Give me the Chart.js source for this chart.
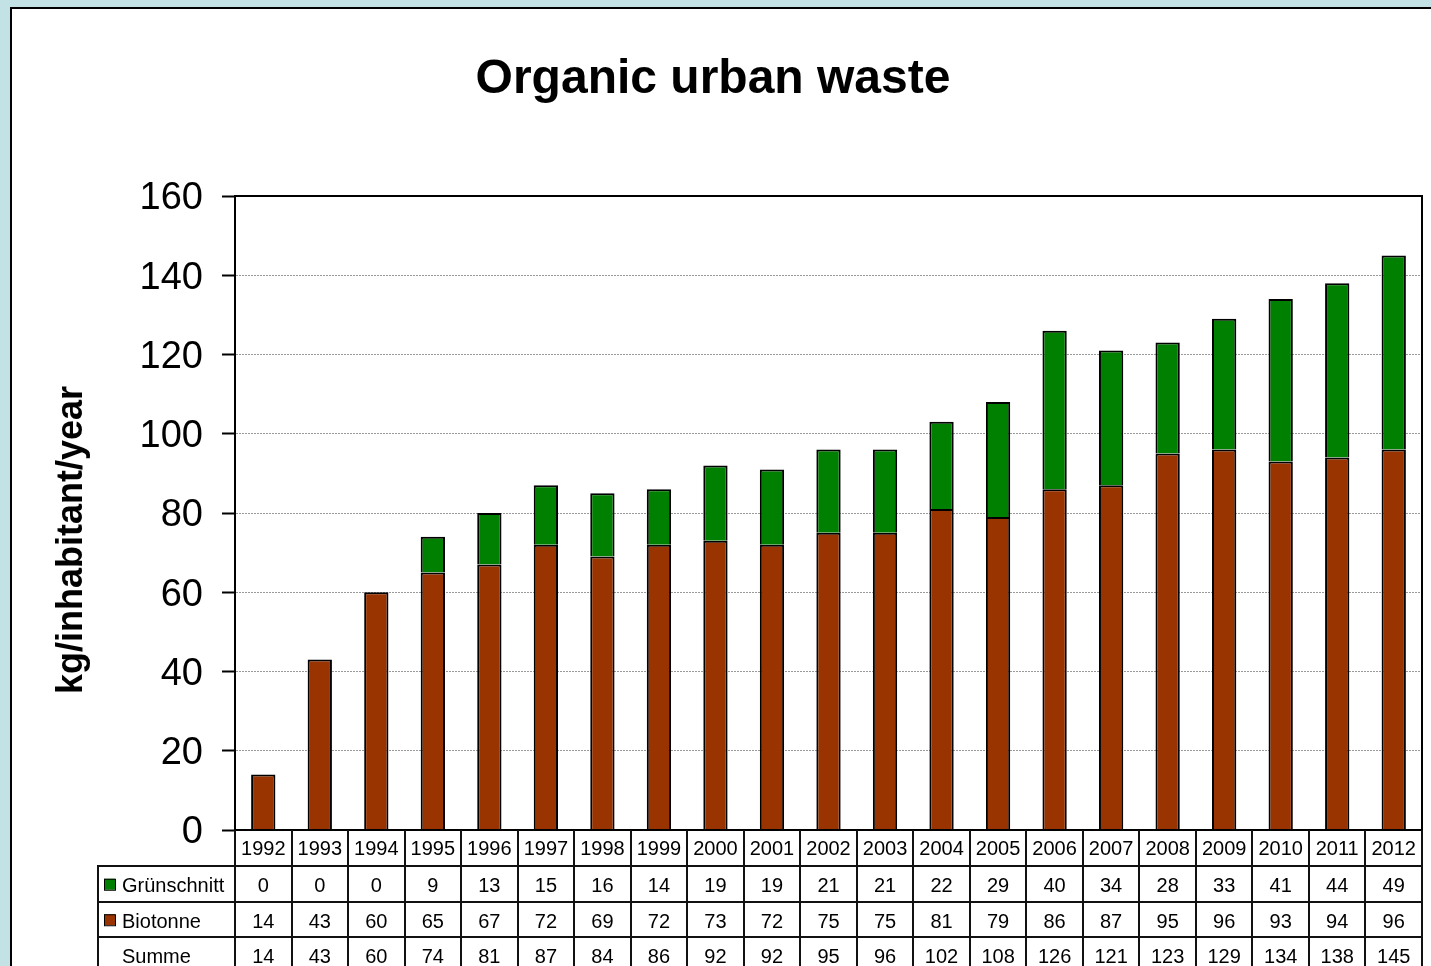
<!DOCTYPE html>
<html>
<head>
<meta charset="utf-8">
<title>Organic urban waste</title>
<script src="https://cdn.jsdelivr.net/npm/chart.js@4.4.0/dist/chart.umd.min.js"></script>
<style>
  html, body { margin: 0; padding: 0; background: #c2e2e6; }
  #wrap { position: absolute; left: 0; top: 0; width: 1431px; height: 966px; }
</style>
</head>
<body>
<div id="wrap"><canvas id="wasteChart" width="1431" height="966"></canvas></div>
<script>
// Daten (kg pro Einwohner und Jahr)
const years = ['1992', '1993', '1994', '1995', '1996', '1997', '1998', '1999', '2000', '2001', '2002',
               '2003', '2004', '2005', '2006', '2007', '2008', '2009', '2010', '2011', '2012'];
const gruenschnitt = [0, 0, 0, 9, 13, 15, 16, 14, 19, 19, 21, 21, 22, 29, 40, 34, 28, 33, 41, 44, 49];
const biotonne = [14, 43, 60, 65, 67, 72, 69, 72, 73, 72, 75, 75, 81, 79, 86, 87, 95, 96, 93, 94, 96];
const summe = [14, 43, 60, 74, 81, 87, 84, 86, 92, 92, 95, 96, 102, 108, 126, 121, 123, 129, 134, 138, 145];
const yMin = 0;
const yMax = 160;
const yStep = 20;

const FONT = "'Liberation Sans', Arial, sans-serif";
const GREEN = '#008000';
const BROWN = '#993300';

// Hintergrund + weisses Panel
const panelPlugin = {
    id: 'panel',
    beforeDraw(chart) {
        const ctx = chart.ctx;
        ctx.save();
        ctx.fillStyle = '#c2e2e6';
        ctx.fillRect(0, 0, chart.width, chart.height);
        ctx.fillStyle = '#ffffff';
        ctx.fillRect(11, 8, chart.width, chart.height);
        ctx.strokeStyle = '#000';
        ctx.lineWidth = 2;
        ctx.strokeRect(11, 8, chart.width + 20, chart.height + 20);
        ctx.restore();
    }
};

// Titel, Achsentitel, Rahmen und Datentabelle
const decorPlugin = {
    id: 'decor',
    afterDraw(chart) {
        const ctx = chart.ctx;
        const area = chart.chartArea;
        const xScale = chart.scales.x;
        ctx.save();

        // Rahmen des Plotbereichs
        ctx.strokeStyle = '#000';
        ctx.lineWidth = 2;
        ctx.strokeRect(area.left, area.top, area.right - area.left, area.bottom - area.top);

        // Titel
        ctx.fillStyle = '#000';
        ctx.textAlign = 'center';
        ctx.textBaseline = 'middle';
        ctx.font = 'bold 48px ' + FONT;
        ctx.fillText('Organic urban waste', 713, 80);

        // y-Achsentitel
        ctx.save();
        ctx.translate(72, 540);
        ctx.rotate(-Math.PI / 2);
        ctx.font = 'bold 36px ' + FONT;
        ctx.fillText('kg/inhabitant/year', 0, 0);
        ctx.restore();

        // Tabelle
        const colW = (area.right - area.left) / years.length;
        const headTop = area.bottom;
        const headBottom = headTop + 36;
        const rowH = 35.5;
        const tableLeft = 98;
        const rows = [
            { label: 'Grünschnitt', color: GREEN, values: gruenschnitt },
            { label: 'Biotonne', color: BROWN, values: biotonne },
            { label: 'Summe', color: null, values: summe }
        ];

        ctx.strokeStyle = '#111';
        ctx.lineWidth = 2;
        ctx.beginPath();
        for (let i = 0; i <= years.length; i++) {
            const lx = Math.round(area.left + i * colW);
            ctx.moveTo(lx, headTop);
            ctx.lineTo(lx, chart.height + 5);
        }
        ctx.moveTo(tableLeft, headBottom);
        ctx.lineTo(tableLeft, chart.height + 5);
        for (let r = 0; r < rows.length; r++) {
            const ly = Math.round(headBottom + r * rowH);
            ctx.moveTo(tableLeft - 1, ly);
            ctx.lineTo(area.right, ly);
        }
        ctx.stroke();

        ctx.font = '20px ' + FONT;
        ctx.fillStyle = '#000';
        ctx.textAlign = 'center';
        years.forEach((yr, i) => {
            ctx.fillText(yr, xScale.getPixelForValue(i), headTop + 19);
        });

        rows.forEach((row, r) => {
            const cy = headBottom + r * rowH + rowH / 2;
            if (row.color) {
                ctx.fillStyle = row.color;
                ctx.fillRect(104, cy - 5, 11, 11);
                ctx.strokeStyle = '#000';
                ctx.lineWidth = 1;
                ctx.strokeRect(104.5, cy - 4.5, 11, 11);
            }
            ctx.fillStyle = '#000';
            ctx.textAlign = 'left';
            ctx.fillText(row.label, 122, cy + 3);
            ctx.textAlign = 'center';
            row.values.forEach((v, i) => {
                ctx.fillText(String(v), xScale.getPixelForValue(i), cy + 3);
            });
        });

        ctx.restore();
    }
};

const ctx = document.getElementById('wasteChart').getContext('2d');
new Chart(ctx, {
    type: 'bar',
    data: {
        labels: years,
        datasets: [{
            label: 'Biotonne',
            data: biotonne,
            backgroundColor: BROWN,
            borderColor: '#000',
            borderWidth: 2,
            barPercentage: 0.43,
            categoryPercentage: 1
        }, {
            label: 'Grünschnitt',
            data: gruenschnitt,
            backgroundColor: GREEN,
            borderColor: '#000',
            borderWidth: 2,
            barPercentage: 0.43,
            categoryPercentage: 1
        }]
    },
    options: {
        responsive: false,
        animation: false,
        devicePixelRatio: 1,
        layout: {
            padding: { left: 0, top: 196, right: 9, bottom: 136 }
        },
        plugins: {
            legend: { display: false },
            tooltip: { enabled: false },
            title: { display: false }
        },
        scales: {
            x: {
                stacked: true,
                display: false,
                offset: true
            },
            y: {
                stacked: true,
                min: yMin,
                max: yMax,
                ticks: {
                    stepSize: yStep,
                    color: '#000',
                    padding: 19,
                    labelOffset: 3,
                    font: { family: FONT, size: 38 }
                },
                grid: {
                    color: '#9a9a9a',
                    lineWidth: 1,
                    tickLength: 13,
                    tickColor: '#000',
                    tickWidth: 2,
                    tickBorderDash: []
                },
                border: {
                    color: '#000',
                    width: 2,
                    dash: [2, 1]
                },
                afterFit(scale) {
                    scale.width = 235;
                }
            }
        }
    },
    plugins: [panelPlugin, decorPlugin]
});
</script>
</body>
</html>
